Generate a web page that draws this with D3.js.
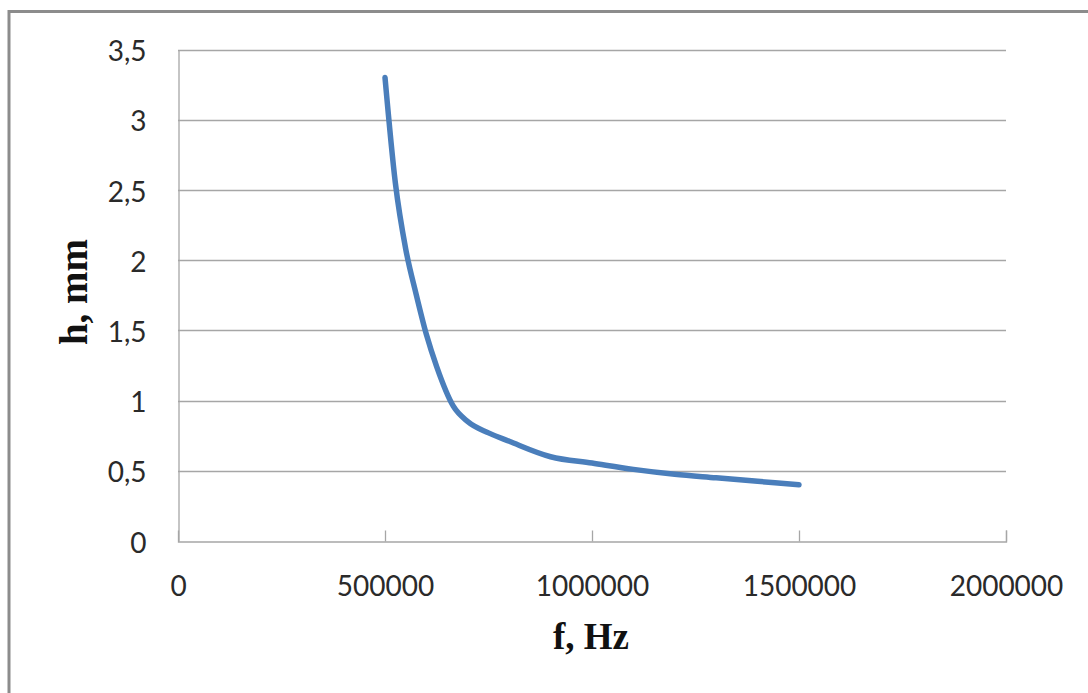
<!DOCTYPE html>
<html>
<head>
<meta charset="utf-8">
<script src="https://cdn.jsdelivr.net/npm/d3@7"></script>
<style>
  html, body { margin: 0; padding: 0; background: #fff; }
  svg { display: block; }
</style>
</head>
<body>
<svg id="chart" width="1088" height="693"></svg>
<script>
// Data
const freqHz = [500000, 525000, 550000, 575000, 600000, 625000, 665000, 700000, 750000, 800000, 900000, 1000000, 1100000, 1200000, 1300000, 1400000, 1500000];
const heightMm = [3.30, 2.55, 2.08, 1.76, 1.47, 1.24, 0.96, 0.85, 0.77, 0.71, 0.60, 0.555, 0.51, 0.475, 0.45, 0.425, 0.40];
const xTicks = [0, 500000, 1000000, 1500000, 2000000];
const yTicks = [0, 0.5, 1, 1.5, 2, 2.5, 3, 3.5];
const xTitle = "f, Hz";
const yTitle = "h, mm";

const svg = d3.select("#chart");
const plot = { left: 178, right: 1006, top: 49.5, bottom: 541 };

const x = d3.scaleLinear().domain([0, 2000000]).range([plot.left, plot.right]);
const y = d3.scaleLinear().domain([0, 3.5]).range([plot.bottom, plot.top]);

const gridColor = "#a6a6a6";
const fmtY = v => String(v).replace(".", ",");

// outer frame (only top and left edges visible in the picture)
svg.append("path")
  .attr("d", "M9,700 L9,11.5 L1100,11.5")
  .attr("fill", "none")
  .attr("stroke", "#8c8c8c")
  .attr("stroke-width", 3);

// horizontal gridlines
svg.append("g")
  .selectAll("line")
  .data(yTicks.filter(v => v > 0))
  .join("line")
  .attr("x1", plot.left).attr("x2", plot.right)
  .attr("y1", d => Math.round(y(d)) + 0.5).attr("y2", d => Math.round(y(d)) + 0.5)
  .attr("stroke", gridColor).attr("stroke-width", 1.3);

// y axis (line only, no ticks), labels
const yAxis = d3.axisLeft(y).tickValues(yTicks).tickSize(0).tickPadding(32).tickFormat(fmtY);
const gy = svg.append("g").attr("transform", `translate(${plot.left + 0.5},0)`).call(yAxis);
gy.select(".domain").attr("stroke", gridColor).attr("stroke-width", 1.3);
gy.selectAll("text")
  .attr("font-family", "Lato, 'Open Sans', sans-serif")
  .attr("font-size", 28)
  .attr("fill", "#2a2a2a")
  .attr("dy", "0.4em");

// x axis: ticks pointing up into plot
const xAxis = d3.axisTop(x).tickValues(xTicks).tickSize(11).tickFormat(d3.format("d"));
const gx = svg.append("g").attr("transform", `translate(0,${plot.bottom + 0.5})`).call(xAxis);
gx.select(".domain").attr("stroke", gridColor).attr("stroke-width", 1.3);
gx.selectAll(".tick line").attr("stroke", gridColor).attr("stroke-width", 1.3);
gx.selectAll(".tick").filter(d => d === 0).select("line").remove();
gx.selectAll("text")
  .attr("font-family", "Lato, 'Open Sans', sans-serif")
  .attr("font-size", 28)
  .attr("fill", "#2a2a2a")
  .attr("y", 54)
  .attr("dy", 0);

// curve
const line = d3.line()
  .x((d, i) => x(freqHz[i]))
  .y(d => y(d))
  .curve(d3.curveMonotoneX);
svg.append("path")
  .datum(heightMm)
  .attr("d", line)
  .attr("fill", "none")
  .attr("stroke", "#4a7ebb")
  .attr("stroke-width", 5.5)
  .attr("stroke-linecap", "round")
  .attr("stroke-linejoin", "round");

// axis titles
svg.append("text")
  .attr("x", 591).attr("y", 649)
  .attr("text-anchor", "middle")
  .attr("font-family", "'Liberation Serif', 'Times New Roman', serif")
  .attr("font-weight", "bold")
  .attr("font-size", 37)
  .attr("fill", "#111")
  .text(xTitle);

svg.append("text")
  .attr("transform", "translate(87,292) rotate(-90)")
  .attr("text-anchor", "middle")
  .attr("font-family", "'Liberation Serif', 'Times New Roman', serif")
  .attr("font-weight", "bold")
  .attr("font-size", 39)
  .attr("fill", "#111")
  .text(yTitle);
</script>
</body>
</html>
